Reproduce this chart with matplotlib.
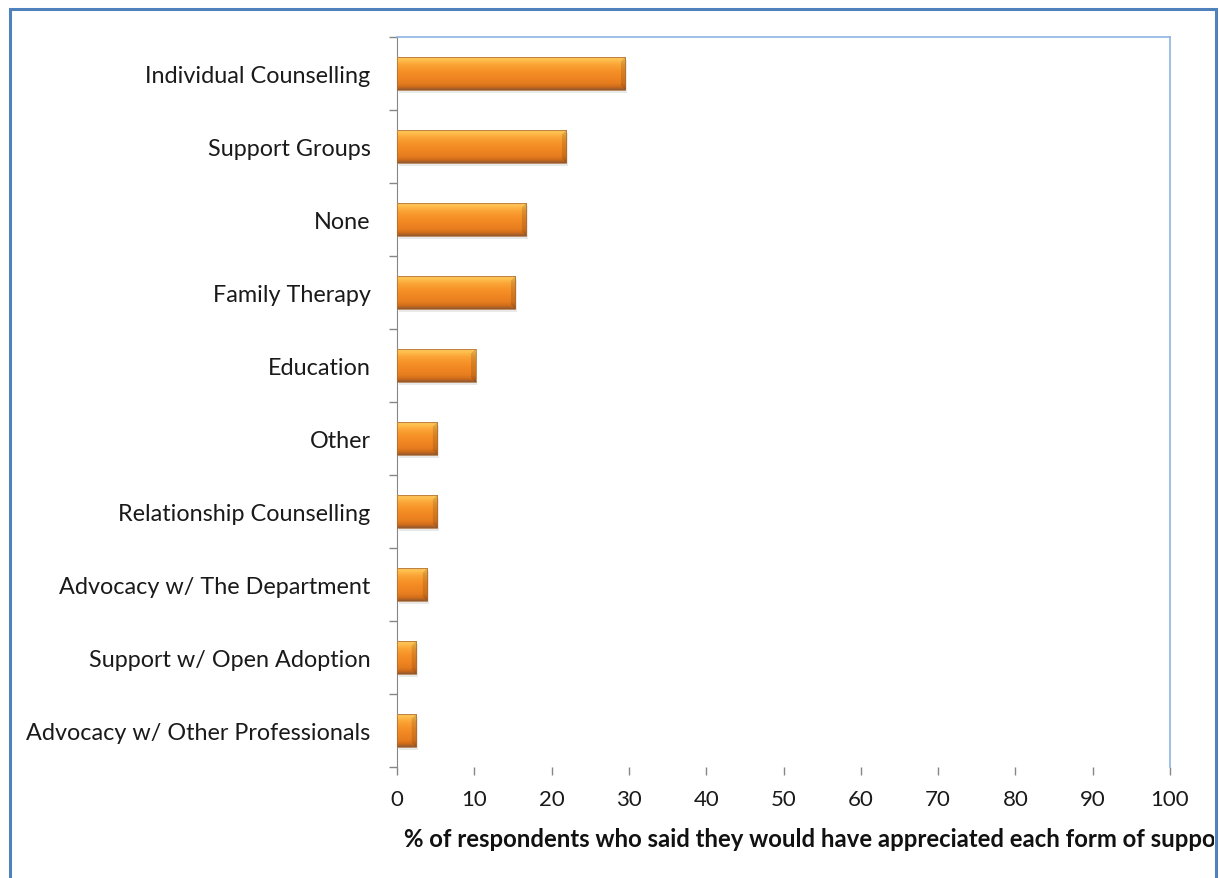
import numpy as np
import matplotlib

matplotlib.use("Agg")
import matplotlib.pyplot as plt
import matplotlib.transforms as mtransforms
from matplotlib.colors import to_rgb
from matplotlib.patches import Rectangle

categories = [
    "Individual Counselling",
    "Support Groups",
    "None",
    "Family Therapy",
    "Education",
    "Other",
    "Relationship Counselling",
    "Advocacy w/ The Department",
    "Support w/ Open Adoption",
    "Advocacy w/ Other Professionals",
]
percent = [29.5, 21.9, 16.7, 15.3, 10.2, 5.2, 5.2, 3.9, 2.5, 2.5]
x_ticks = list(range(0, 101, 10))
x_label = "% of respondents who said they would have appreciated each form of support"

plt.rcParams["font.family"] = ["Lato", "DejaVu Sans"]

W, H, DPI = 1219, 879, 100
fig = plt.figure(figsize=(W / DPI, H / DPI), dpi=DPI)
ax = fig.add_axes([397 / W, 1 - 768 / H, (1170 - 397) / W, (768 - 38) / H])

ypos = np.arange(len(categories))
ax.set_xlim(0, 100)
ax.set_ylim(len(categories) - 0.5, -0.5)

# vertical shading of the bevelled bars, top to bottom
stops = ["#f7c060", "#ffc24e", "#fba437", "#f69127", "#f08622",
         "#e67d1f", "#cf6c1b", "#985a2c"]
stop_pos = [0.0, 0.07, 0.22, 0.42, 0.62, 0.8, 0.91, 1.0]


def bar_image(npx_w, npx_h, bevel=5):
    rows = np.linspace(0, 1, npx_h)
    rgb = np.array([to_rgb(c) for c in stops])
    col = np.stack([np.interp(rows, stop_pos, rgb[:, k]) for k in range(3)], axis=1)
    img = np.repeat(col[:, None, :], npx_w, axis=1)
    yy, xx = np.mgrid[0:npx_h, 0:npx_w]
    dr = npx_w - 1 - xx
    dt = yy
    db = npx_h - 1 - yy
    cap = (dr < bevel) & (dr <= dt) & (dr <= db)
    img[cap] = img[cap] * 0.88
    return img


bars = ax.barh(ypos, percent, height=0.45, color="none", edgecolor="none", zorder=3)
px_per_unit = (1170 - 397) / 100
bar_px_h = int(round(0.45 * 73))
for bar in bars:
    x0, y0 = bar.get_x(), bar.get_y()
    w, h = bar.get_width(), bar.get_height()
    shadow = Rectangle((x0, y0), w, h, facecolor="#b8b8b8", edgecolor="none",
                       alpha=0.3, zorder=2,
                       transform=ax.transData + mtransforms.ScaledTranslation(
                           1.5 / DPI, -3 / DPI, fig.dpi_scale_trans))
    ax.add_patch(shadow)
    img = bar_image(max(int(round(w * px_per_unit)), 2), bar_px_h)
    im = ax.imshow(img, extent=(x0, x0 + w, y0 + h, y0), aspect="auto",
                   interpolation="bilinear", zorder=3)
    im.set_clip_path(bar)
    ax.add_patch(Rectangle((x0, y0), w, h, facecolor="none",
                           edgecolor="#a86a30", linewidth=0.5, zorder=4))

# category boundaries carry the tick marks, names sit on minor ticks
ax.set_yticks(np.arange(-0.5, len(categories), 1.0))
ax.set_yticklabels([])
ax.set_yticks(ypos, minor=True)
ax.set_yticklabels(categories, minor=True, fontsize=16.8, color="#1a1a1a")
ax.tick_params(axis="y", which="major", direction="out", length=6, width=1,
               color="#868686")
ax.tick_params(axis="y", which="minor", length=0, pad=19)

ax.set_xticks(x_ticks)
ax.tick_params(axis="x", direction="out", length=6, width=1, color="#868686",
               labelsize=16, labelcolor="#1a1a1a", pad=10)

ax.spines["left"].set_color("#868686")
ax.spines["bottom"].set_visible(False)
for side in ("top", "right"):
    ax.spines[side].set_color("#8eb4e3")
    ax.spines[side].set_linewidth(1.2)

frame = Rectangle((10 / W, -0.05), (1216 - 10) / W, 1 - 10 / H + 0.05,
                  transform=fig.transFigure, facecolor="none",
                  edgecolor="#4f81bd", linewidth=2.2, zorder=10)
fig.patches.append(frame)

label = fig.text(404 / W, 1 - 840 / H, x_label, ha="left", va="center",
                 fontsize=17.2, fontweight="bold", color="#111111")
clip = Rectangle((10 / W, 0), (1214 - 10) / W, 1, transform=fig.transFigure)
label.set_clip_path(clip)

fig.savefig("out.png", dpi=DPI)
